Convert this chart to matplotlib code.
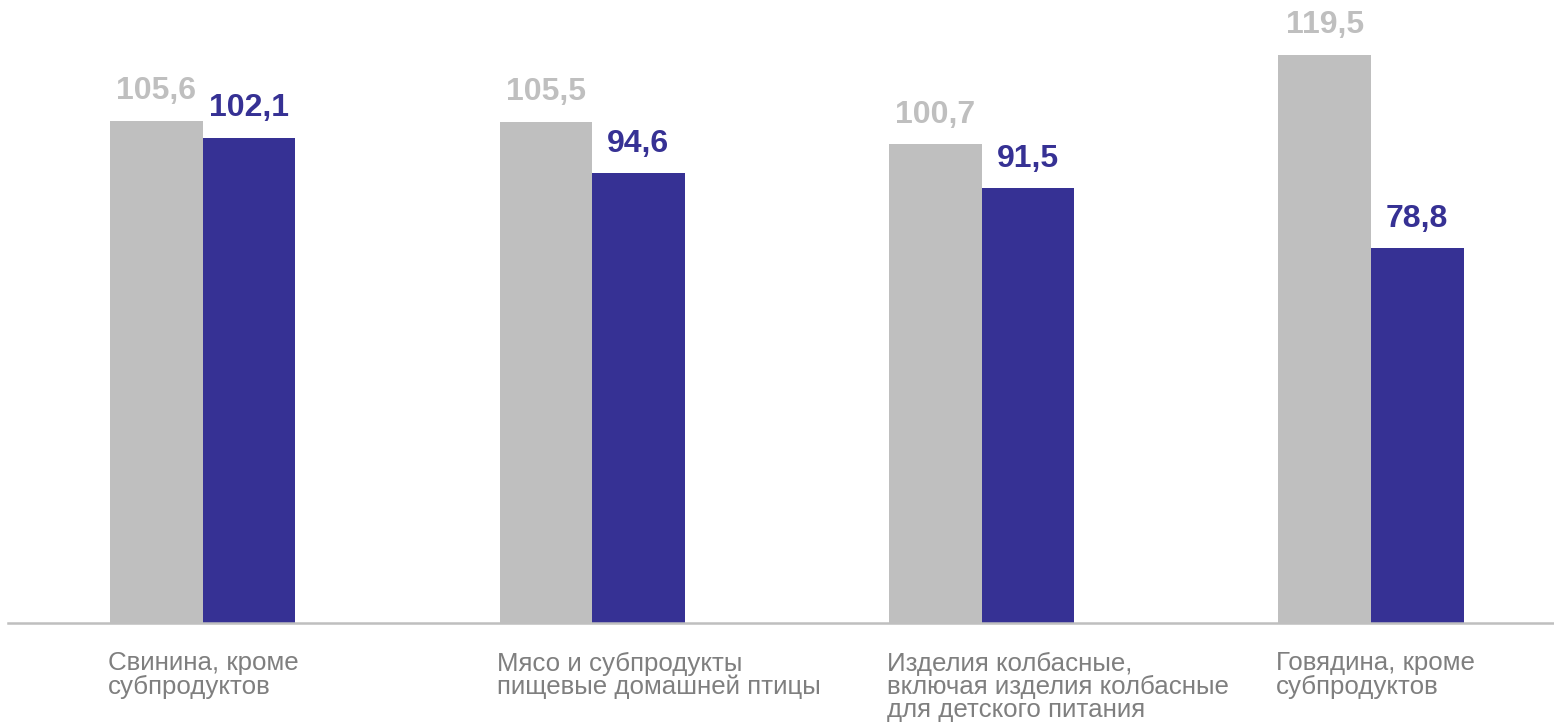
import matplotlib
matplotlib.use("Agg")
import matplotlib.pyplot as plt
import numpy as np

categories = ["Свинина, кроме\nсубпродуктов",
              "Мясо и субпродукты\nпищевые домашней птицы",
              "Изделия колбасные,\nвключая изделия колбасные\nдля детского питания",
              "Говядина, кроме\nсубпродуктов"]
series_gray = [105.6, 105.5, 100.7, 119.5]
series_blue = [102.1, 94.6, 91.5, 78.8]

gray = "#BFBFBF"
blue = "#363194"
label_col = "#7F7F7F"

plt.rcParams['font.family'] = ['Liberation Sans', 'DejaVu Sans']

W, H = 1554, 723
fig = plt.figure(figsize=(W/100, H/100), dpi=100)
base = 623
ax = fig.add_axes([8/W, (H-base)/H, 1-8/W, base/H])

x = np.arange(len(categories))
w = 0.2377
ax.bar(x - w/2, series_gray, width=w, color=gray, zorder=2)
ax.bar(x + w/2, series_blue, width=w, color=blue, zorder=2)

def fmt(v):
    return f"{v:.1f}".replace(".", ",")

for xi, g, b in zip(x, series_gray, series_blue):
    ax.annotate(fmt(g), (xi - w/2, g), xytext=(0, 10.5), textcoords="offset points",
                ha="center", va="bottom", fontsize=23, fontweight="bold", color=gray)
    ax.annotate(fmt(b), (xi + w/2, b), xytext=(0, 10.5), textcoords="offset points",
                ha="center", va="bottom", fontsize=23, fontweight="bold", color=blue)

for xi, c in zip(x, categories):
    ax.annotate(c, (xi - w, 0), xytext=(-1.5, -20.5), textcoords="offset points",
                ha="left", va="top", fontsize=18.6, color=label_col, linespacing=0.95,
                annotation_clip=False)

ax.set_xlim(-0.5, 3.47)
ax.set_ylim(0, 119.5 * base / 568)
for s in ["top", "right", "left"]:
    ax.spines[s].set_visible(False)
ax.spines["bottom"].set_color(gray)
ax.spines["bottom"].set_linewidth(1.8)
ax.set_xticks([])
ax.set_yticks([])
ax.patch.set_alpha(0)

fig.savefig("out.png", dpi=100)
